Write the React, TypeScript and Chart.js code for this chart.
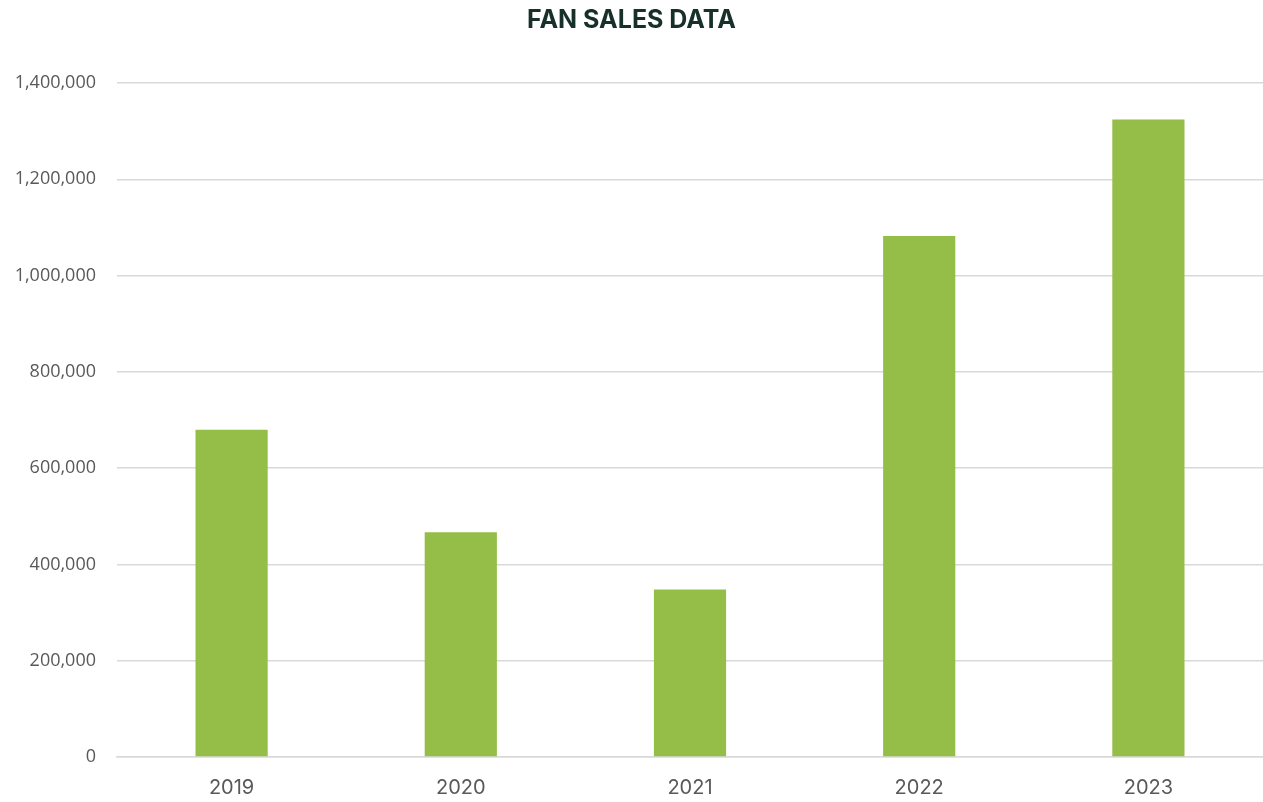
import React, { useEffect, useRef } from "react";
import { Chart, registerables } from "chart.js";

Chart.register(...registerables);

const categories = ["2019", "2020", "2021", "2022", "2023"];
const salesValues = [680000, 467000, 348000, 1082000, 1324000];
const yTickMax = 1400000;
const yTickStep = 200000;
const chartTitle = "FAN SALES DATA";

export default function App() {
  const ref = useRef<HTMLCanvasElement>(null);
  useEffect(() => {
    document.body.style.margin = "0";
    const chart = new Chart(ref.current!, {
      type: "bar",
      data: {
        labels: categories,
        datasets: [
          {
            label: "Sales",
            data: salesValues,
            backgroundColor: "#95be49",
            barPercentage: 0.63,
            categoryPercentage: 0.5,
          },
        ],
      },
      options: {
        animation: false,
        responsive: false,
        layout: { padding: { left: 0, right: 0, top: 0, bottom: 0 } },
        plugins: {
          legend: { display: false },
          tooltip: { enabled: false },
          title: {
            display: true,
            text: chartTitle,
            color: "#17302a",
            font: { family: "Inter", size: 25, weight: "bold" },
            padding: { top: 5, bottom: 48 },
          },
        },
        scales: {
          x: {
            grid: { display: false, drawTicks: false },
            border: { display: true, color: "#d9d9d9", width: 1.5 },
            ticks: {
              color: "#595959",
              font: { family: "Inter", size: 20 },
              padding: 19,
            },
            afterFit: (s: any) => {
              s.height = 45;
            },
          },
          y: {
            min: 0,
            max: yTickMax,
            grid: { color: "#d9d9d9", lineWidth: 1.5, drawTicks: false },
            border: { display: false },
            ticks: {
              stepSize: yTickStep,
              color: "#595959",
              font: { family: "Open Sans", size: 18 },
              padding: 21,
              callback: (v: any) => Number(v).toLocaleString("en-US"),
            },
            afterFit: (s: any) => {
              s.width = 117;
            },
          },
        },
      },
    });
    return () => chart.destroy();
  }, []);
  return (
    <div style={{ width: 1263, height: 802 }}>
      <canvas ref={ref} width={1263} height={802} style={{ display: "block" }} />
    </div>
  );
}
